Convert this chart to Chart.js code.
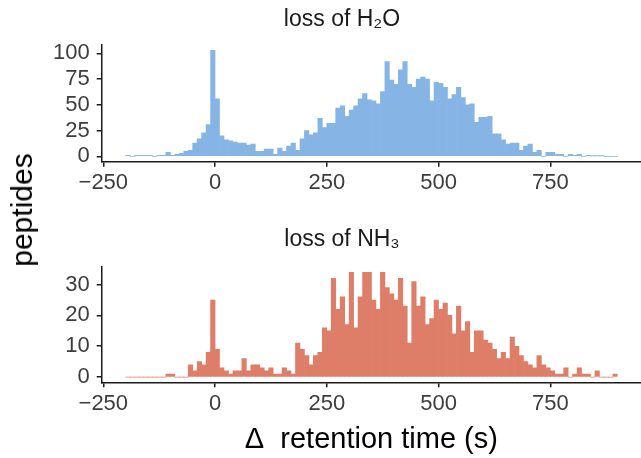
<!DOCTYPE html>
<html><head><meta charset="utf-8">
<script src="https://cdn.jsdelivr.net/npm/chart.js@4"></script>
<style>
html,body{margin:0;padding:0;background:#fff;}
#wrap{position:relative;width:641px;height:458px;overflow:hidden;font-family:"Liberation Sans",Arial,sans-serif;}
canvas{position:absolute;left:0;}
#ylab{position:absolute;left:22px;top:210px;transform:translate(-50%,-50%) rotate(-90deg);font-size:30px;color:#000;white-space:nowrap;}
</style></head><body>
<div id="wrap">
<canvas id="c1" width="641" height="200" style="top:0"></canvas>
<canvas id="c2" width="641" height="238" style="top:220px"></canvas>
<div id="ylab">peptides</div>
</div>
<script>
// bin left edges (s), bin width 10
const binLeft = [-200,-190,-180,-170,-160,-150,-140,-130,-120,-110,
 -100,-90,-80,-70,-60,-50,-40,-30,-20,-10,
 0,10,20,30,40,50,60,70,80,90,
 100,110,120,130,140,150,160,170,180,190,
 200,210,220,230,240,250,260,270,280,290,
 300,310,320,330,340,350,360,370,380,390,
 400,410,420,430,440,450,460,470,480,490,
 500,510,520,530,540,550,560,570,580,590,
 600,610,620,630,640,650,660,670,680,690,
 700,710,720,730,740,750,760,770,780,790,
 800,810,820,830,840,850,860,870,880,890];
const h2oCounts = [1,0,1,1,1,1,0,1,1,4,
 1,2,3,5,6,13,17,23,31,103,
 56,20,16,15,14,13,13,11,12,5,
 5,7,7,2,8,5,10,13,6,17,
 25,21,23,37,28,32,32,47,49,39,
 45,49,56,61,55,54,51,63,92,74,
 70,84,92,70,67,75,77,75,54,72,
 71,67,56,60,67,57,50,51,33,38,
 38,39,22,22,16,12,13,13,6,10,
 12,4,6,0,4,4,2,2,0,2,
 1,2,0,1,0.5,0.5,0.5,0,0,0];
const nh3Counts = [0,0,0,0,0,0,0,0,0,1,
 1,0,0,0,4,2,5,4,8,25,
 9,3,2,1,2,2,6,2,4,4,
 3,2,3,1,1,3,2,1,11,9,
 7,4,7,8,16,15,32,22,26,17,
 34,16,26,34,34,25,22,34,29,27,
 25,32,23,11,31,23,26,17,19,25,
 22,24,20,14,23,15,18,8,15,15,
 12,11,9,6,8,6,13,10,7,5,
 4,3,7,4,3,2,1,1,3,0,
 1,3,1,1,0,2,0,0,0,1];
const xTicks = [-250,0,250,500,750];
const h2oYTicks = [0,25,50,75,100];
const nh3YTicks = [0,10,20,30];
const panelTitles = ['loss of H\u2082O','loss of NH\u2083'];
const xTitle = '\u0394  retention time (s)';

const FONT = '"Liberation Sans", Arial, sans-serif';
const AXIS = '#1a1a1a';

const panelTitle = {
  id: 'panelTitle',
  afterDraw(chart, args, o) {
    const ctx = chart.ctx;
    ctx.save();
    ctx.font = o.size + 'px ' + FONT;
    ctx.fillStyle = o.color;
    ctx.textAlign = 'center';
    ctx.textBaseline = 'middle';
    ctx.fillText(o.text, o.x, o.y);
    ctx.restore();
  }
};

function makeChart(id, counts, color, yTicks, yMin, yMax, title, padTop, xAxisH, showXTitle) {
  const data = binLeft.map((b, i) => ({x: b + 5, y: counts[i]}));
  return new Chart(document.getElementById(id), {
    type: 'bar',
    data: {datasets: [{data, backgroundColor: color, borderWidth: 0,
      barPercentage: 1, categoryPercentage: 1, grouped: false}]},
    options: {
      responsive: false, animation: false,
      layout: {padding: {top: padTop, left: 0, right: 0, bottom: 0}},
      plugins: {legend: {display: false}, tooltip: {enabled: false}, title: {display: false},
        panelTitle: {text: title, x: 342, y: 20, size: 23, color: '#1a1a1a'}},
      scales: {
        x: {
          type: 'linear', min: -253.6, max: 953, offset: false,
          afterBuildTicks: s => { s.ticks = xTicks.map(v => ({value: v})); },
          afterFit: s => { s.height = xAxisH; },
          grid: {display: true, drawOnChartArea: false, drawTicks: true, tickLength: 5, color: AXIS, lineWidth: 1.5, offset: false},
          border: {display: true, color: AXIS, width: 1.5},
          ticks: {color: '#3d3d3d', font: {size: 22, family: FONT}, padding: 3, maxRotation: 0, autoSkip: false,
            callback: v => v < 0 ? '\u2212' + Math.abs(v) : String(v)},
          title: {display: showXTitle, text: xTitle, color: '#000', font: {size: 29, family: FONT}, padding: {top: 0, bottom: 1}}
        },
        y: {
          min: yMin, max: yMax,
          afterBuildTicks: s => { s.ticks = yTicks.map(v => ({value: v})); },
          afterFit: s => { s.width = 101.7; },
          grid: {display: true, drawOnChartArea: false, drawTicks: true, tickLength: 5, color: AXIS, lineWidth: 1.5},
          border: {display: true, color: AXIS, width: 1.5},
          ticks: {color: '#3d3d3d', font: {size: 22, family: FONT}, padding: 7, autoSkip: false}
        }
      }
    },
    plugins: [panelTitle]
  });
}

makeChart('c1', h2oCounts, '#86B5E5', h2oYTicks, -5.15, 108.15, panelTitles[0], 45, 38.3, false);
makeChart('c2', nh3Counts, '#DE7E69', nh3YTicks, -1.7, 35.7, panelTitles[1], 47, 75.7, true);
</script>
</body></html>
